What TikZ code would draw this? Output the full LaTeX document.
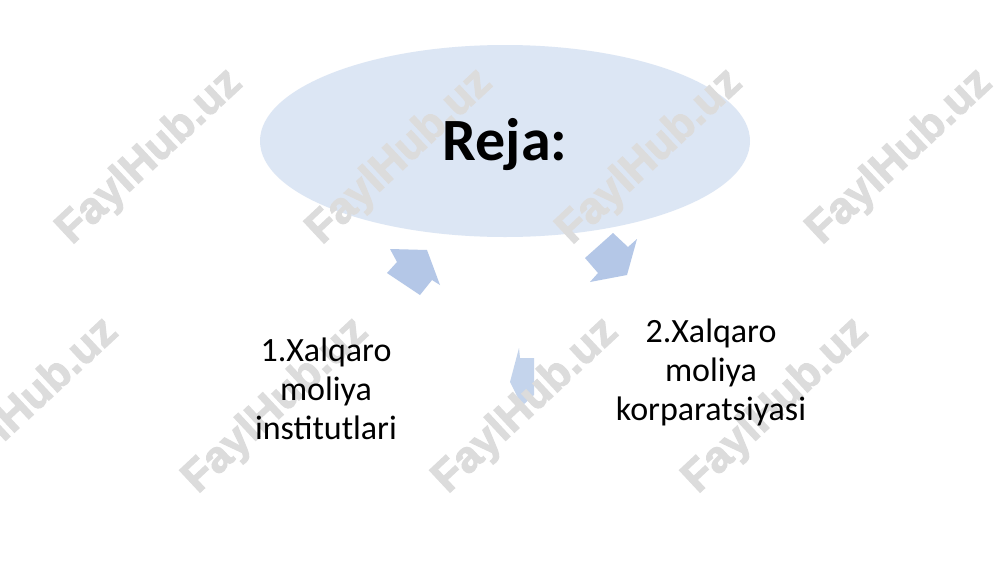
\documentclass[tikz,border=0pt]{standalone}
\usepackage{fontspec}
\setmainfont{Carlito}
\newfontfamily\wmfont[FakeBold=2.5]{Liberation Sans}
\usetikzlibrary{shapes.geometric}
\definecolor{ellfill}{RGB}{220,230,244}
\definecolor{arrblue}{RGB}{180,199,231}
\definecolor{arrlight}{RGB}{196,212,236}
\definecolor{wmgray}{RGB}{220,220,220}
\tikzset{
  wm/.style={font=\wmfont\bfseries\fontsize{44}{44}\selectfont, text=wmgray, rotate=43, inner sep=0pt},
  itemtext/.style={font=\fontsize{34}{39}\selectfont, align=center, inner sep=0pt},
  cyclearrow/.style={fill=arrblue, draw=none}
}
\begin{document}
\begin{tikzpicture}[x=1pt,y=-1pt]
\useasboundingbox (0,0) rectangle (1000,562);
\fill[white] (0,0) rectangle (1000,562);
% central ellipse
\node[ellipse, fill=ellfill, minimum width=490pt, minimum height=192pt, inner sep=0pt] (ell) at (505,141) {};
% cycle arrows
\fill[cyclearrow] (390,249) -- (427,250) -- (440,285) -- (432,280) -- (420,295) -- (387,273) -- (397,262) -- cycle;
\fill[cyclearrow] (613,233) -- (628,247) -- (637,239) -- (627,275) -- (590,282) -- (598,273) -- (585,258) -- cycle;
\fill[cyclearrow, fill=arrlight] (519,348) -- (520,358) -- (534,358) -- (534,395) -- (522,406) -- (510,382) -- cycle;
% watermarks
\node[wm] (wm1) at (150,157) {FaylHub.uz};
\node[wm] (wm2) at (400,157) {FaylHub.uz};
\node[wm] (wm3) at (650,157) {FaylHub.uz};
\node[wm] (wm4) at (900,157) {FaylHub.uz};
\node[wm] (wm5) at (26,406) {FaylHub.uz};
\node[wm] (wm6) at (276,406) {FaylHub.uz};
\node[wm] (wm7) at (526,406) {FaylHub.uz};
\node[wm] (wm8) at (776,406) {FaylHub.uz};
% texts
\node[anchor=base, font=\bfseries\fontsize{60}{60}\selectfont, inner sep=0pt] (reja) at (505,160) {Reja:};
\node[itemtext] (left) at (326,389) {1.Xalqaro\\moliya\\institutlari};
\node[itemtext] (right) at (711,372) {2.Xalqaro\\moliya\\korparatsiyasi};
\end{tikzpicture}
\end{document}
